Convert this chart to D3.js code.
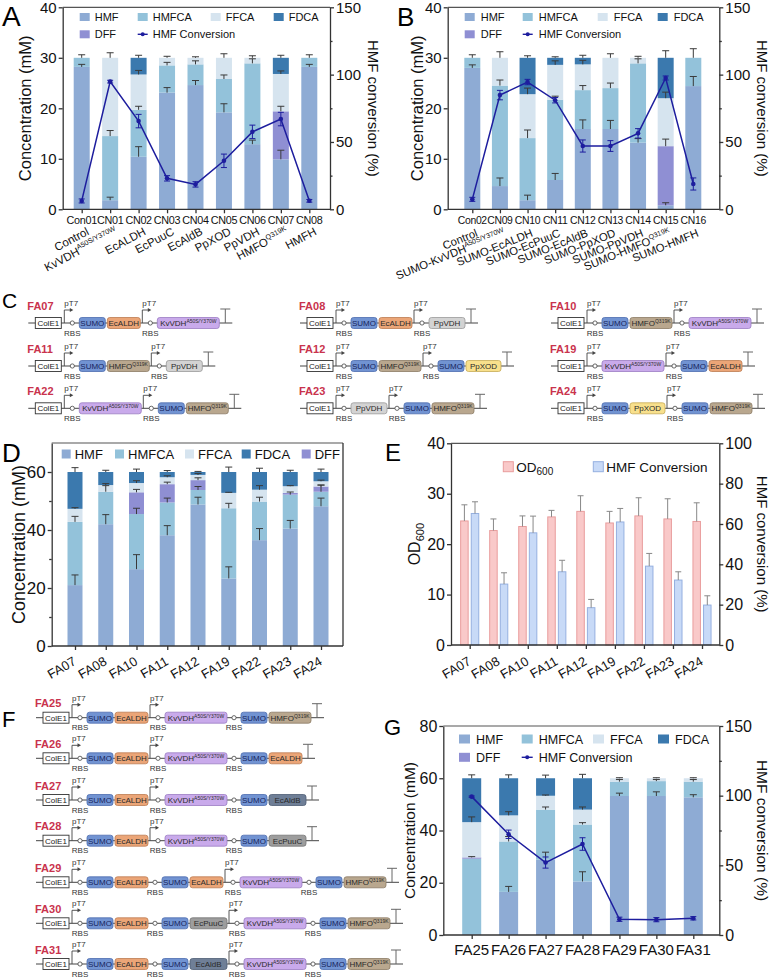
<!DOCTYPE html>
<html>
<head>
<meta charset="utf-8">
<title>HMF oxidation strains</title>
<script src="https://cdn.jsdelivr.net/npm/d3@7/dist/d3.min.js"></script>
<style>
  body { margin: 0; background: #fff; }
</style>
</head>
<body>
<script>
// ---- Panel A: single enzymes (mM, stacked) ----
var aCats = ["Con01","CN01","CN02","CN03","CN04","CN05","CN06","CN07","CN08"];
var aNames = ["Control","KvVDH^A50S/Y370W","EcALDH","EcPuuC","EcAldB","PpXOD","PpVDH","HMFO^Q319K","HMFH"];
var aHMF   = [28.2, 1.8, 10.4, 23.1, 24.6, 19.2, 12.9, 9.9, 28.2];
var aHMFCA = [1.8, 12.7, 9.3, 5.4, 4.1, 6.6, 16.0, 0, 1.8];
var aDFF   = [0, 0, 0, 0, 0, 0, 0, 9.5, 0];
var aFFCA  = [0, 15.5, 7.0, 1.5, 1.3, 4.2, 1.1, 7.4, 0];
var aFDCA  = [0, 0, 3.3, 0, 0, 0, 0, 3.2, 0];
var aErrHMF   = [0.5, 0.6, 2.0, 1.0, 0.9, 1.7, 0.8, 1.8, 0.5];
var aErrHMFCA = [0.6, 1.1, 0.7, 0.6, 0.7, 0.8, 0.9, 0, 0.6];
var aErrDFF   = [0, 0, 0, 0, 0, 0, 0, 1.0, 0];
var aErrFFCA  = [0, 1.0, 0.8, 0.3, 0.2, 0.8, 0.4, 0.6, 0];
var aErrFDCA  = [0, 0, 0.5, 0, 0, 0, 0, 0.5, 0];
var aConv    = [6.2, 94.8, 65.5, 23.0, 18.5, 36.0, 57.5, 67.0, 6.3];
var aConvErr = [1.5, 1.0, 5.0, 2.0, 2.0, 5.0, 5.0, 5.0, 1.0];

// ---- Panel B: SUMO fusions ----
var bCats = ["Con02","CN09","CN10","CN11","CN12","CN13","CN14","CN15","CN16"];
var bNames = ["Control","SUMO-KvVDH^A50S/Y370W","SUMO-EcALDH","SUMO-EcPuuC","SUMO-EcAldB","SUMO-PpXOD","SUMO-PpVDH","SUMO-HMFO^Q319K","SUMO-HMFH"];
var bHMF   = [28.0, 4.6, 1.8, 5.8, 15.9, 15.9, 13.2, 0.8, 24.4];
var bHMFCA = [2.0, 19.9, 12.3, 15.9, 7.7, 8.1, 15.7, 0, 5.6];
var bDFF   = [0, 0, 0, 0, 0, 0, 0, 11.7, 0];
var bFFCA  = [0, 5.5, 8.7, 6.9, 5.1, 6.0, 1.1, 9.5, 0];
var bFDCA  = [0, 0, 7.2, 1.4, 1.3, 0, 0, 8.0, 0];
var bErrHMF   = [0.6, 1.6, 1.0, 1.3, 1.8, 1.7, 0.8, 0.5, 1.9];
var bErrHMFCA = [0.6, 1.1, 1.6, 0.7, 0.9, 1.0, 0.9, 0, 1.8];
var bErrDFF   = [0, 0, 0, 0, 0, 0, 0, 1.4, 0];
var bErrFFCA  = [0, 1.2, 1.2, 0.8, 0.8, 0.8, 0.3, 1.2, 0];
var bErrFDCA  = [0, 0, 0.4, 0.2, 0.5, 0, 0, 1.4, 0];
var bConv    = [7.4, 84.8, 94.5, 81.0, 47.0, 47.0, 56.4, 97.5, 18.8];
var bConvErr = [1.5, 3.5, 2.0, 2.0, 4.5, 4.0, 3.5, 1.5, 4.5];

// ---- Panel C: two-module constructs ----
var cNames = ["FA07","FA11","FA22","FA08","FA12","FA23","FA10","FA19","FA24"];
var cParts = [
  ["ColE1","P","R","SUMO","EcALDH","P","R","KvVDH","T"],
  ["ColE1","P","R","SUMO","HMFO","P","R","PpVDH","T"],
  ["ColE1","P","R","KvVDH","P","R","SUMO","HMFO","T"],
  ["ColE1","P","R","SUMO","EcALDH","P","R","PpVDH","T"],
  ["ColE1","P","R","SUMO","HMFO","P","R","SUMO","PpXOD","T"],
  ["ColE1","P","R","PpVDH","P","R","SUMO","HMFO","T"],
  ["ColE1","P","R","SUMO","HMFO","P","R","KvVDH","T"],
  ["ColE1","P","R","KvVDH","P","R","SUMO","EcALDH","T"],
  ["ColE1","P","R","SUMO","PpXOD","P","R","SUMO","HMFO","T"]
];

// ---- Panel D: two-module strains, 60 mM ----
var dCats = ["FA07","FA08","FA10","FA11","FA12","FA19","FA22","FA23","FA24"];
var dHMF   = [21.0, 42.0, 26.5, 38.2, 48.8, 23.3, 36.5, 40.5, 48.2];
var dHMFCA = [21.8, 11.2, 19.0, 11.3, 5.0, 24.2, 13.3, 11.7, 5.0];
var dDFF   = [0, 0, 7.5, 6.3, 3.4, 0, 0, 0.6, 1.8];
var dFFCA  = [4.5, 2.3, 3.2, 2.4, 1.8, 5.3, 4.1, 2.3, 1.8];
var dFDCA  = [12.7, 4.5, 3.8, 1.8, 1.0, 7.2, 6.1, 4.9, 3.2];
var dErrHMF   = [3.5, 3.3, 5.0, 3.3, 2.5, 4.0, 4.0, 2.8, 2.8];
var dErrHMFCA = [1.9, 2.1, 2.0, 1.5, 1.2, 1.7, 1.5, 0.9, 2.3];
var dErrDFF   = [0, 0, 1.0, 0.7, 0.8, 0, 0, 0, 0.5];
var dErrFFCA  = [0.4, 0.5, 0.8, 0.5, 0.5, 0.2, 1.4, 0.2, 0.4];
var dErrFDCA  = [1.5, 0.6, 1.0, 0.5, 0.2, 1.7, 1.3, 0.6, 1.0];

// ---- Panel E: OD600 and conversion ----
var eCats = ["FA07","FA08","FA10","FA11","FA12","FA19","FA22","FA23","FA24"];
var eOD      = [24.6, 22.7, 23.5, 25.4, 26.5, 24.2, 25.6, 25.0, 24.5];
var eODErr   = [3.2, 2.3, 2.1, 1.3, 3.1, 2.3, 3.6, 4.0, 3.7];
var eConv    = [65.2, 30.2, 55.6, 36.3, 18.5, 61.0, 39.1, 32.2, 19.8];
var eConvErr = [5.8, 5.6, 8.3, 5.7, 4.1, 6.7, 6.3, 4.1, 4.6];

// ---- Panel F: three-module constructs ----
var fNames = ["FA25","FA26","FA27","FA28","FA29","FA30","FA31"];
var fParts = [
  ["ColE1","P","R","SUMO","EcALDH","P","R","KvVDH","R","SUMO","HMFO","T"],
  ["ColE1","P","R","SUMO","EcALDH","P","R","KvVDH","R","SUMO","EcALDH","T"],
  ["ColE1","P","R","SUMO","EcALDH","P","R","KvVDH","R","SUMO","EcAldB","T"],
  ["ColE1","P","R","SUMO","EcALDH","P","R","KvVDH","R","SUMO","EcPuuC","T"],
  ["ColE1","P","R","SUMO","EcALDH","R","SUMO","EcALDH","P","R","KvVDH","R","SUMO","HMFO","T"],
  ["ColE1","P","R","SUMO","EcALDH","R","SUMO","EcPuuC","P","R","KvVDH","R","SUMO","HMFO","T"],
  ["ColE1","P","R","SUMO","EcALDH","R","SUMO","EcAldB","P","R","KvVDH","R","SUMO","HMFO","T"]
];

// ---- Panel G: three-module strains, 60 mM ----
var gCats = ["FA25","FA26","FA27","FA28","FA29","FA30","FA31"];
var gHMF   = [0.3, 16.5, 28.8, 20.5, 53.2, 53.2, 52.7];
var gHMFCA = [28.9, 19.3, 19.2, 21.8, 5.5, 5.7, 6.0];
var gDFF   = [0.5, 0, 0, 0, 0, 0, 0];
var gFFCA  = [13.5, 10.0, 5.3, 5.7, 1.3, 1.1, 1.3];
var gFDCA  = [16.8, 14.2, 6.7, 12.0, 0, 0, 0];
var gErrHMF   = [0, 2.1, 2.9, 3.7, 1.1, 1.6, 1.0];
var gErrHMFCA = [0, 1.9, 1.0, 0.7, 0.8, 0.6, 0.8];
var gErrDFF   = [0.3, 0, 0, 0, 0, 0, 0];
var gErrFFCA  = [2.0, 1.4, 0.3, 1.0, 0.2, 0.2, 0.2];
var gErrFDCA  = [1.3, 1.3, 1.2, 1.5, 0, 0, 0];
var gConv    = [99.3, 72.3, 52.0, 65.3, 11.3, 11.0, 12.0];
var gConvErr = [0.5, 3.0, 4.0, 4.5, 1.5, 1.5, 1.2];

// ---------------- styling ----------------
var FONT = "Arial, 'Liberation Sans', Helvetica, sans-serif";
var AXIS = "#333";
var CONV = "#1d1d9e";
var keys = ["HMF","HMFCA","DFF","FFCA","FDCA"];
var colors = { HMF: "#8eabd4", HMFCA: "#93c2da", DFF: "#8f8fd3", FFCA: "#d6e4ef", FDCA: "#3b79ae" };
var legendText = { HMF: "HMF", HMFCA: "HMFCA", FFCA: "FFCA", FDCA: "FDCA", DFF: "DFF", conv: "HMF Conversion" };

var genes = {
  SUMO:   { w: 26, fill: "#7193d2", stroke: "#4d6cae", label: "SUMO", color: "#17245c" },
  EcALDH: { w: 33, fill: "#eba577", stroke: "#bd7b50", label: "EcALDH" },
  KvVDH:  { w: 62, fill: "#c9aaeb", stroke: "#9a7cc3", label: "KvVDH", sup: "A50S/Y370W" },
  HMFO:   { w: 42, fill: "#b9a78e", stroke: "#8b7b64", label: "HMFO", sup: "Q319K" },
  PpVDH:  { w: 36, fill: "#d3d3d3", stroke: "#999", label: "PpVDH" },
  PpXOD:  { w: 35, fill: "#f8e08c", stroke: "#c7ab55", label: "PpXOD" },
  EcPuuC: { w: 37, fill: "#9d9d9d", stroke: "#747474", label: "EcPuuC" },
  EcAldB: { w: 37, fill: "#6f7f97", stroke: "#4e5d74", label: "EcAldB" }
};

var svg = d3.select("body").append("svg")
    .attr("width", 773)
    .attr("height", 979)
    .attr("font-family", FONT);

svg.append("rect").attr("width", 773).attr("height", 979).attr("fill", "#fff");

function styleAxis(sel, fs, keepDomain) {
    sel.attr("font-family", FONT).attr("font-size", fs).attr("color", AXIS);
    sel.selectAll(".tick line").attr("stroke-width", 1.3);
    sel.selectAll(".tick text").attr("fill", "#111");
    if (keepDomain) sel.select(".domain").attr("stroke-width", 1.3);
    else sel.select(".domain").remove();
}

// text with an optional "^superscript" part
function richLabel(t, label, supFs, supDy) {
    var p = label.split("^");
    t.append("tspan").text(p[0]);
    if (p[1]) t.append("tspan").attr("font-size", supFs).attr("dy", -supDy).text(p[1]);
}

function hline(g, x1, x2, y, col, w) {
    g.append("line").attr("x1", x1).attr("x2", x2).attr("y1", y).attr("y2", y)
        .attr("stroke", col || AXIS).attr("stroke-width", w || 1.3);
}

function drawLegend(g, items, fs, sw, sh, tx) {
    items.forEach(function(it) {
        if (it.key === "conv") {
            hline(g, it.x, it.x + sw, it.y, CONV, 1.4);
            g.append("circle").attr("cx", it.x + sw / 2).attr("cy", it.y).attr("r", 2).attr("fill", CONV);
        } else {
            g.append("rect").attr("x", it.x).attr("y", it.y - sh / 2).attr("width", sw).attr("height", sh)
                .attr("fill", colors[it.key]);
        }
        g.append("text").attr("x", it.x + tx).attr("y", it.y + fs * 0.36)
            .attr("font-size", fs).attr("fill", "#111").text(legendText[it.key]);
    });
}

function panelLetter(t, x, y, fs) {
    svg.append("text").attr("x", x).attr("y", y).attr("font-size", fs).attr("fill", "#000").text(t);
}

// stacked product bars with optional conversion line on right axis
function stackedPanel(o) {
    var g = svg.append("g");
    var x = d3.scalePoint().domain(o.cats).range(o.centers);
    var y = d3.scaleLinear().domain([0, o.ymax]).range([o.bottom, o.top]);

    var rows = o.cats.map(function(c, i) {
        var r = { cat: c, i: i };
        keys.forEach(function(k) { r[k] = o.vals[k][i]; });
        return r;
    });
    var series = d3.stack().keys(keys)(rows);

    series.forEach(function(s) {
        g.selectAll(null)
            .data(s.filter(function(d) { return d[1] - d[0] > 0; }))
            .enter()
            .append("rect")
            .attr("x", function(d) { return x(d.data.cat) - o.bw / 2; })
            .attr("y", function(d) { return y(d[1]); })
            .attr("width", o.bw)
            .attr("height", function(d) { return y(d[0]) - y(d[1]); })
            .attr("fill", colors[s.key]);
    });

    // error bars (upper side only)
    series.forEach(function(s) {
        s.forEach(function(d) {
            var e = o.errs[s.key][d.data.i];
            if (!(e > 0) || d[1] - d[0] <= 0) return;
            var cx = x(d.data.cat), y1 = y(d[1]), y2 = y(d[1] + e);
            g.append("line").attr("x1", cx).attr("x2", cx).attr("y1", y1).attr("y2", y2)
                .attr("stroke", "#3a3a3a").attr("stroke-width", 1);
            hline(g, cx - 3.5, cx + 3.5, y2, "#3a3a3a", 1);
        });
    });

    // frame
    var ax = g.append("g").attr("transform", "translate(" + o.left + ",0)")
        .call(d3.axisLeft(y).tickValues(o.yticks).tickSize(4).tickSizeOuter(0).tickPadding(2));
    styleAxis(ax, o.tickFs, true);
    if (o.yminor) {
        var am = g.append("g").attr("transform", "translate(" + o.left + ",0)")
            .call(d3.axisLeft(y).tickValues(o.yminor).tickSize(2.5).tickFormat(""));
        styleAxis(am, o.tickFs, false);
    }
    hline(g, o.left, o.right, o.bottom);
    hline(g, o.left, o.right, o.top, "#555", 1.2);

    var xa = g.append("g").attr("transform", "translate(0," + o.bottom + ")")
        .call(d3.axisBottom(x).tickSize(4).tickFormat(""));
    styleAxis(xa, 10, false);

    if (o.conv) {
        var yR = d3.scaleLinear().domain([0, o.rmax]).range([o.bottom, o.top]);
        var ar = g.append("g").attr("transform", "translate(" + o.right + ",0)")
            .call(d3.axisRight(yR).tickValues(o.rticks).tickSize(4).tickSizeOuter(0).tickPadding(2));
        styleAxis(ar, o.tickFs, true);
        var arm = g.append("g").attr("transform", "translate(" + o.right + ",0)")
            .call(d3.axisRight(yR).tickValues(o.rminor).tickSize(2.5).tickFormat(""));
        styleAxis(arm, o.tickFs, false);

        var line = d3.line()
            .x(function(d, i) { return x(o.cats[i]); })
            .y(function(d) { return yR(d); });
        g.append("path").datum(o.conv).attr("d", line)
            .attr("fill", "none").attr("stroke", CONV).attr("stroke-width", 1.5);
        o.conv.forEach(function(v, i) {
            var cx = x(o.cats[i]), e = o.convErr[i];
            g.append("line").attr("x1", cx).attr("x2", cx).attr("y1", yR(v - e)).attr("y2", yR(v + e))
                .attr("stroke", CONV).attr("stroke-width", 1);
            hline(g, cx - 3, cx + 3, yR(v - e), CONV, 1);
            hline(g, cx - 3, cx + 3, yR(v + e), CONV, 1);
        });
        g.selectAll(null).data(o.conv).enter().append("circle")
            .attr("cx", function(d, i) { return x(o.cats[i]); })
            .attr("cy", function(d) { return yR(d); })
            .attr("r", 2.3).attr("fill", CONV);
    } else {
        g.append("line").attr("x1", o.right).attr("x2", o.right).attr("y1", o.top).attr("y2", o.bottom)
            .attr("stroke", AXIS).attr("stroke-width", 1.3);
    }

    // category labels
    if (o.flatLabels) {
        g.selectAll(null).data(o.cats).enter().append("text")
            .attr("x", function(d) { return x(d); })
            .attr("y", o.bottom + o.flatDy)
            .attr("text-anchor", "middle")
            .attr("font-size", o.flatFs)
            .attr("letter-spacing", o.flatLs || 0)
            .attr("fill", "#111")
            .text(function(d) { return d; });
    }
    if (o.names) {
        g.selectAll(null).data(o.names).enter().append("text")
            .attr("transform", function(d, i) {
                return "translate(" + (x(o.cats[i]) + o.rotDx) + "," + o.rotY + ") rotate(" + o.rot + ")";
            })
            .attr("text-anchor", "end")
            .attr("font-size", o.rotFs)
            .attr("fill", "#111")
            .each(function(d) { richLabel(d3.select(this), d, o.rotFs * 0.62, o.rotFs * 0.42); });
    }

    // axis titles
    g.append("text").attr("transform", "translate(" + o.yLabX + "," + ((o.top + o.bottom) / 2) + ") rotate(-90)")
        .attr("text-anchor", "middle").attr("font-size", o.labFs).attr("fill", "#111").text("Concentration (mM)");
    if (o.conv) {
        g.append("text").attr("transform", "translate(" + o.rLabX + "," + ((o.top + o.bottom) / 2) + ") rotate(90)")
            .attr("text-anchor", "middle").attr("font-size", o.rLabFs).attr("fill", "#111").text("HMF conversion (%)");
    }

    drawLegend(g, o.legend.map(function(it) {
        return { key: it[0], x: o.left + it[1], y: o.top + it[2] };
    }), o.legFs, o.legW, o.legH, o.legTx);
}

// plasmid construct: backbone, ori, promoters, RBS, genes, terminator
function drawConstruct(g, name, parts, x0, y, nameDy) {
    var cx = x0 + 7, items = [];
    parts.forEach(function(p, i) {
        var next = parts[i + 1];
        if (p === "ColE1") { items.push({ type: "ori", x: cx }); cx += 29; }
        else if (p === "P") { items.push({ type: "pro", x: cx }); cx += 6; }
        else if (p === "R") { items.push({ type: "rbs", x: cx + 2 }); cx += 9; }
        else if (p === "T") { items.push({ type: "ter", x: cx + 4 }); cx += 11; }
        else {
            var s = genes[p];
            items.push({ type: "gene", x: cx, s: s });
            cx += s.w + (next === "R" ? 5 : 2);
        }
    });
    hline(g, x0, cx, y, "#444", 1);

    g.append("text").attr("x", x0 - 1).attr("y", y - nameDy)
        .attr("font-size", 11).attr("font-weight", "bold").attr("fill", "#c9334d").text(name);

    items.forEach(function(it) {
        if (it.type === "ori") {
            g.append("rect").attr("x", it.x).attr("y", y - 5.5).attr("width", 26).attr("height", 11)
                .attr("fill", "#fff").attr("stroke", "#333").attr("stroke-width", 0.9);
            g.append("text").attr("x", it.x + 13).attr("y", y + 3).attr("text-anchor", "middle")
                .attr("font-size", 8).attr("fill", "#222").text("ColE1");
        } else if (it.type === "pro") {
            g.append("path").attr("d", "M" + it.x + "," + y + "V" + (y - 13) + "H" + (it.x + 6))
                .attr("fill", "none").attr("stroke", "#444").attr("stroke-width", 0.9);
            g.append("path").attr("d", "M" + (it.x + 9) + "," + (y - 13) + "L" + (it.x + 5.5) + "," + (y - 15)
                + "L" + (it.x + 5.5) + "," + (y - 11) + "Z").attr("fill", "#444");
            g.append("text").attr("x", it.x).attr("y", y - 17).attr("font-size", 8).attr("fill", "#333").text("pT7");
        } else if (it.type === "rbs") {
            g.append("circle").attr("cx", it.x).attr("cy", y).attr("r", 2.1)
                .attr("fill", "#fff").attr("stroke", "#444").attr("stroke-width", 0.8);
            g.append("text").attr("x", it.x).attr("y", y + 12.5).attr("text-anchor", "middle")
                .attr("font-size", 8).attr("fill", "#333").text("RBS");
        } else if (it.type === "ter") {
            g.append("line").attr("x1", it.x).attr("x2", it.x).attr("y1", y).attr("y2", y - 14)
                .attr("stroke", "#666").attr("stroke-width", 1);
            hline(g, it.x - 5, it.x + 5, y - 14, "#666", 1);
        } else {
            var s = it.s;
            g.append("rect").attr("x", it.x).attr("y", y - 5.5).attr("width", s.w).attr("height", 11)
                .attr("rx", 2.5).attr("fill", s.fill).attr("stroke", s.stroke).attr("stroke-width", 0.8);
            var t = g.append("text").attr("x", it.x + s.w / 2).attr("y", y + 3).attr("text-anchor", "middle")
                .attr("font-size", 8).attr("fill", s.color || "#2a2a2a");
            richLabel(t, s.label + (s.sup ? "^" + s.sup : ""), 5, 3);
        }
    });
}

// ---------------- Panel A ----------------
panelLetter("A", 2, 26, 28);
stackedPanel({
    cats: aCats, names: aNames,
    vals: { HMF: aHMF, HMFCA: aHMFCA, DFF: aDFF, FFCA: aFFCA, FDCA: aFDCA },
    errs: { HMF: aErrHMF, HMFCA: aErrHMFCA, DFF: aErrDFF, FFCA: aErrFFCA, FDCA: aErrFDCA },
    conv: aConv, convErr: aConvErr,
    left: 62.7, right: 330, top: 7.3, bottom: 209.3, centers: [81.7, 309.3], bw: 16,
    ymax: 40, yticks: [0, 10, 20, 30, 40], rmax: 150, rticks: [0, 50, 100, 150], rminor: [25, 75, 125],
    tickFs: 15, flatLabels: true, flatDy: 14.7, flatFs: 10.8, flatLs: -0.3,
    rotDx: 8, rotY: 234, rot: -28, rotFs: 11.5,
    yLabX: 31, labFs: 16.5, rLabX: 368, rLabFs: 15,
    legend: [["HMF", 17, 9.7], ["HMFCA", 75, 9.7], ["FFCA", 148, 9.7], ["FDCA", 211, 9.7], ["DFF", 17, 27], ["conv", 75, 27]],
    legFs: 11, legW: 10, legH: 8, legTx: 15
});

// ---------------- Panel B ----------------
panelLetter("B", 397, 26, 26);
stackedPanel({
    cats: bCats, names: bNames,
    vals: { HMF: bHMF, HMFCA: bHMFCA, DFF: bDFF, FFCA: bFFCA, FDCA: bFDCA },
    errs: { HMF: bErrHMF, HMFCA: bErrHMFCA, DFF: bErrDFF, FFCA: bErrFFCA, FDCA: bErrFDCA },
    conv: bConv, convErr: bConvErr,
    left: 447.7, right: 719.3, top: 7.3, bottom: 209.3, centers: [472.3, 693.3], bw: 16,
    ymax: 40, yticks: [0, 10, 20, 30, 40], rmax: 150, rticks: [0, 50, 100, 150], rminor: [25, 75, 125],
    tickFs: 15, flatLabels: true, flatDy: 14.7, flatFs: 10.4, flatLs: -0.3,
    rotDx: 6, rotY: 236, rot: -22, rotFs: 11.3,
    yLabX: 423, labFs: 16.5, rLabX: 757, rLabFs: 15,
    legend: [["HMF", 17, 9.7], ["HMFCA", 75, 9.7], ["FFCA", 150, 9.7], ["FDCA", 210, 9.7], ["DFF", 17, 27], ["conv", 75, 27]],
    legFs: 11, legW: 10, legH: 8, legTx: 16
});

// ---------------- Panel C ----------------
panelLetter("C", 2, 308, 21);
var gC = svg.append("g");
var cColX = [28.3, 300, 551], cRowY = [323, 366, 408.3];
cNames.forEach(function(n, i) {
    drawConstruct(gC, n, cParts[i], cColX[Math.floor(i / 3)], cRowY[i % 3], 13);
});

// ---------------- Panel D ----------------
panelLetter("D", 2, 462, 26);
stackedPanel({
    cats: dCats, names: dCats,
    vals: { HMF: dHMF, HMFCA: dHMFCA, DFF: dDFF, FFCA: dFFCA, FDCA: dFDCA },
    errs: { HMF: dErrHMF, HMFCA: dErrHMFCA, DFF: dErrDFF, FFCA: dErrFFCA, FDCA: dErrFDCA },
    left: 51.7, right: 343, top: 443, bottom: 646, centers: [75, 321], bw: 15,
    ymax: 70, yticks: [0, 20, 40, 60], yminor: [10, 30, 50],
    tickFs: 17, flatLabels: false,
    rotDx: 2, rotY: 664, rot: -30, rotFs: 13,
    yLabX: 25, labFs: 18,
    legend: [["HMF", 10, 11], ["HMFCA", 63.3, 11], ["FFCA", 133.3, 11], ["FDCA", 190, 11], ["DFF", 250, 11]],
    legFs: 13, legW: 9, legH: 9, legTx: 13
});

// ---------------- Panel E ----------------
panelLetter("E", 385, 461, 24);
(function() {
    var g = svg.append("g");
    var left = 451, right = 719.3, top = 443.3, bottom = 645;
    var x = d3.scalePoint().domain(eCats).range([469.7, 702]);
    var y = d3.scaleLinear().domain([0, 40]).range([bottom, top]);
    var yR = d3.scaleLinear().domain([0, 100]).range([bottom, top]);
    var bw = 7.5, off = 5.3;
    var pink = { fill: "#f9c9c9", stroke: "#e99d9d" }, blue = { fill: "#c8daf7", stroke: "#95b0e0" };

    function bars(vals, errs, sc, dx, st) {
        g.selectAll(null).data(vals).enter().append("rect")
            .attr("x", function(d, i) { return x(eCats[i]) + dx - bw / 2; })
            .attr("y", function(d) { return sc(d); })
            .attr("width", bw)
            .attr("height", function(d) { return bottom - sc(d); })
            .attr("fill", st.fill).attr("stroke", st.stroke).attr("stroke-width", 1);
        vals.forEach(function(v, i) {
            var cx = x(eCats[i]) + dx, y2 = sc(v + errs[i]);
            g.append("line").attr("x1", cx).attr("x2", cx).attr("y1", sc(v)).attr("y2", y2)
                .attr("stroke", "#888").attr("stroke-width", 1);
            hline(g, cx - 3, cx + 3, y2, "#888", 1);
        });
    }
    bars(eOD, eODErr, y, -off, pink);
    bars(eConv, eConvErr, yR, off, blue);

    var ax = g.append("g").attr("transform", "translate(" + left + ",0)")
        .call(d3.axisLeft(y).tickValues([0, 10, 20, 30, 40]).tickSize(4).tickSizeOuter(0).tickPadding(2));
    styleAxis(ax, 16, true);
    var ar = g.append("g").attr("transform", "translate(" + right + ",0)")
        .call(d3.axisRight(yR).tickValues([0, 20, 40, 60, 80, 100]).tickSize(4).tickSizeOuter(0).tickPadding(2));
    styleAxis(ar, 16, true);
    hline(g, left, right, bottom);
    hline(g, left, right, top, "#555", 1.2);
    var xa = g.append("g").attr("transform", "translate(0," + bottom + ")")
        .call(d3.axisBottom(x).tickSize(4).tickFormat(""));
    styleAxis(xa, 10, false);

    g.selectAll(null).data(eCats).enter().append("text")
        .attr("transform", function(d) { return "translate(" + (x(d) + 2) + ",664) rotate(-30)"; })
        .attr("text-anchor", "end").attr("font-size", 13).attr("fill", "#111").text(function(d) { return d; });

    var yl = g.append("text").attr("transform", "translate(420," + ((top + bottom) / 2) + ") rotate(-90)")
        .attr("text-anchor", "middle").attr("font-size", 16).attr("fill", "#111");
    yl.append("tspan").text("OD");
    yl.append("tspan").attr("font-size", 11).attr("dy", 4).text("600");
    g.append("text").attr("transform", "translate(757," + ((top + bottom) / 2) + ") rotate(90)")
        .attr("text-anchor", "middle").attr("font-size", 15).attr("fill", "#111").text("HMF conversion (%)");

    // legend
    var lg = [{ st: pink, x: left + 52.3, main: "OD", sub: "600" }, { st: blue, x: left + 142.3, main: "HMF Conversion" }];
    lg.forEach(function(it) {
        g.append("rect").attr("x", it.x).attr("y", 461.7).attr("width", 10).attr("height", 10)
            .attr("fill", it.st.fill).attr("stroke", it.st.stroke);
        var t = g.append("text").attr("x", it.x + 13).attr("y", 471.5).attr("font-size", 13.5).attr("fill", "#111");
        t.append("tspan").text(it.main);
        if (it.sub) t.append("tspan").attr("font-size", 10).attr("dy", 3).text(it.sub);
    });
})();

// ---------------- Panel F ----------------
panelLetter("F", 2, 727, 22);
var gF = svg.append("g");
var fRowY = [717.7, 758.3, 800, 840.7, 882.3, 923.3, 964];
fNames.forEach(function(n, i) {
    drawConstruct(gF, n, fParts[i], 36, fRowY[i], 10.5);
});

// ---------------- Panel G ----------------
panelLetter("G", 384, 735, 22);
stackedPanel({
    cats: gCats,
    vals: { HMF: gHMF, HMFCA: gHMFCA, DFF: gDFF, FFCA: gFFCA, FDCA: gFDCA },
    errs: { HMF: gErrHMF, HMFCA: gErrHMFCA, DFF: gErrDFF, FFCA: gErrFFCA, FDCA: gErrFDCA },
    conv: gConv, convErr: gConvErr,
    left: 443.3, right: 719.3, top: 726, bottom: 935, centers: [471.7, 693.3], bw: 19,
    ymax: 80, yticks: [0, 20, 40, 60, 80], rmax: 150, rticks: [0, 50, 100, 150], rminor: [25, 75, 125],
    tickFs: 16, flatLabels: true, flatDy: 20, flatFs: 15,
    yLabX: 415, labFs: 15.5, rLabX: 757, rLabFs: 15.5,
    legend: [["HMF", 15.7, 13], ["HMFCA", 78.4, 13], ["FFCA", 149.7, 13], ["FDCA", 214.7, 13], ["DFF", 15.7, 31.3], ["conv", 78.4, 31.3]],
    legFs: 12.5, legW: 11, legH: 9, legTx: 17
});
</script>
</body>
</html>
